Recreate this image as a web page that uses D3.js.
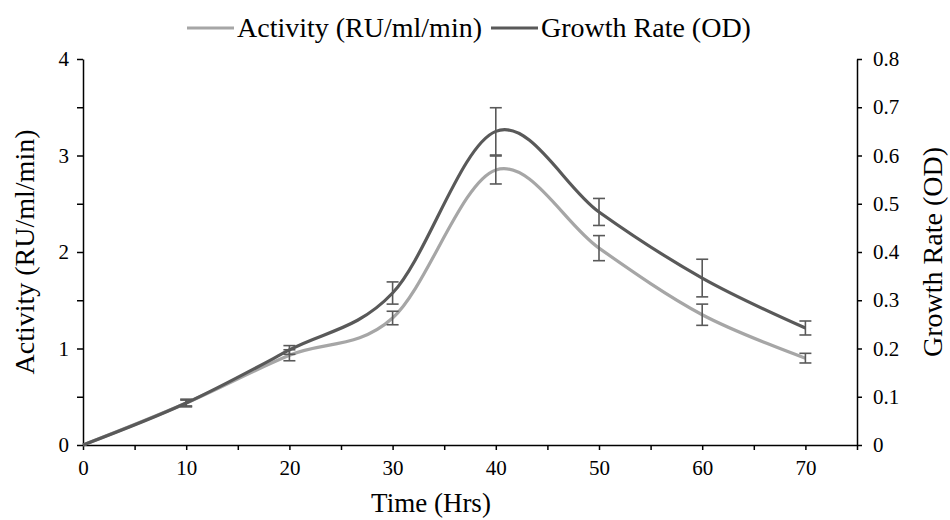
<!DOCTYPE html>
<html>
<head>
  <meta charset="utf-8">
  <script src="https://cdn.jsdelivr.net/npm/d3@7"></script>
  <style>
    body { margin: 0; background: #fff; }
    text { font-family: "Liberation Serif", "Times New Roman", serif; fill: #000; }
  </style>
</head>
<body>
<script>
  "use strict";

  // values
  var hours = [0, 10, 20, 30, 40, 50, 60, 70];
  var activity = [0, 0.435, 0.93, 1.316, 2.85, 2.04, 1.35, 0.9];
  var activityErr = [0, 0.04, 0.057, 0.07, 0.145, 0.13, 0.11, 0.05];
  var growth = [0, 0.087, 0.197, 0.315, 0.65, 0.483, 0.346, 0.2425];
  var growthErr = [0, 0.006, 0.009, 0.023, 0.049, 0.028, 0.039, 0.0145];

  var xTicks = [0, 5, 10, 15, 20, 25, 30, 35, 40, 45, 50, 55, 60, 65, 70, 75];
  var leftTicks = [0, 0.5, 1, 1.5, 2, 2.5, 3, 3.5, 4];
  var rightTicks = [0, 0.1, 0.2, 0.3, 0.4, 0.5, 0.6, 0.7, 0.8];

  var width = 950, height = 520;
  var plotLeft = 83, plotRight = 857, plotTop = 59, plotBottom = 445;

  var lightGrey = "#a6a6a6", darkGrey = "#595959";

  var svg = d3.select("body").append("svg")
      .attr("width", width)
      .attr("height", height);

  var x = d3.scaleLinear().domain([0, 75]).range([plotLeft, plotRight]);
  var yL = d3.scaleLinear().domain([0, 4]).range([plotBottom, plotTop]);
  var yR = d3.scaleLinear().domain([0, 0.8]).range([plotBottom, plotTop]);

  // axes
  var xAxis = d3.axisBottom(x).tickValues(xTicks).tickSize(5)
      .tickFormat(function(d) { return d % 10 === 0 ? d : ""; });
  var lAxis = d3.axisLeft(yL).tickValues(leftTicks).tickSize(6)
      .tickFormat(function(d) { return d % 1 === 0 ? d : ""; });
  var rAxis = d3.axisRight(yR).tickValues(rightTicks).tickSize(5)
      .tickFormat(function(d) { return d === 0 ? "0" : d3.format(".1f")(d); });

  function styleAxis(g) {
    g.selectAll("path").attr("stroke", "#000").attr("stroke-width", 1.5);
    g.selectAll("line").attr("stroke", "#000").attr("stroke-width", 1.5);
    g.selectAll("text").style("font-size", "21px")
      .style("font-family", "'Liberation Serif', serif").attr("fill", "#000");
  }

  svg.append("g").attr("transform", "translate(0," + plotBottom + ")")
    .call(xAxis.tickSizeOuter(0)).call(styleAxis)
    .selectAll("text").attr("dy", "1.05em");
  svg.append("g").attr("transform", "translate(" + plotLeft + ",0)")
    .call(lAxis.tickSizeOuter(0)).call(styleAxis)
    .selectAll("text").attr("x", -14);
  svg.append("g").attr("transform", "translate(" + plotRight + ",0)")
    .call(rAxis.tickSizeOuter(0)).call(styleAxis)
    .selectAll("text").attr("x", 16);

  // axis titles
  svg.append("text")
    .attr("x", 431).attr("y", 512)
    .attr("text-anchor", "middle")
    .style("font-size", "27px")
    .text("Time (Hrs)");

  svg.append("text")
    .attr("transform", "translate(34," + ((plotTop + plotBottom) / 2) + ") rotate(-90)")
    .attr("text-anchor", "middle")
    .style("font-size", "28px")
    .text("Activity (RU/ml/min)");

  svg.append("text")
    .attr("transform", "translate(942," + ((plotTop + plotBottom) / 2) + ") rotate(-90)")
    .attr("text-anchor", "middle")
    .style("font-size", "28px")
    .text("Growth Rate (OD)");

  // smoothed lines
  var curve = d3.curveCardinal.tension(0);

  var lineL = d3.line()
      .x(function(d, i) { return x(hours[i]); })
      .y(function(d) { return yL(d); })
      .curve(curve);
  var lineR = d3.line()
      .x(function(d, i) { return x(hours[i]); })
      .y(function(d) { return yR(d); })
      .curve(curve);

  svg.append("path")
    .attr("d", lineL(activity))
    .attr("fill", "none")
    .attr("stroke", lightGrey)
    .attr("stroke-width", 3.2);

  svg.append("path")
    .attr("d", lineR(growth))
    .attr("fill", "none")
    .attr("stroke", darkGrey)
    .attr("stroke-width", 3.2);

  // error bars
  function errorBars(vals, errs, y) {
    var g = svg.append("g")
        .attr("stroke", darkGrey)
        .attr("stroke-width", 1.6);
    hours.forEach(function(h, i) {
      if (errs[i] === 0) return;
      var cx = x(h), y1 = y(vals[i] + errs[i]), y2 = y(vals[i] - errs[i]);
      g.append("line").attr("x1", cx).attr("x2", cx).attr("y1", y1).attr("y2", y2);
      g.append("line").attr("x1", cx - 6).attr("x2", cx + 6).attr("y1", y1).attr("y2", y1);
      g.append("line").attr("x1", cx - 6).attr("x2", cx + 6).attr("y1", y2).attr("y2", y2);
    });
  }
  errorBars(activity, activityErr, yL);
  errorBars(growth, growthErr, yR);

  // legend, entries placed one after the other
  var legendNames = ["Activity (RU/ml/min)", "Growth Rate (OD)"];
  var legendColors = [lightGrey, darkGrey];
  var lg = svg.append("g");
  var lx = 187;
  legendNames.forEach(function(name, i) {
    lg.append("line")
      .attr("x1", lx).attr("x2", lx + 47)
      .attr("y1", 28).attr("y2", 28)
      .attr("stroke", legendColors[i]).attr("stroke-width", 3.2);
    var t = lg.append("text")
      .attr("x", lx + 50).attr("y", 37)
      .style("font-size", "28px")
      .text(name);
    lx = lx + 50 + t.node().getComputedTextLength() + 9;
  });
</script>
</body>
</html>
